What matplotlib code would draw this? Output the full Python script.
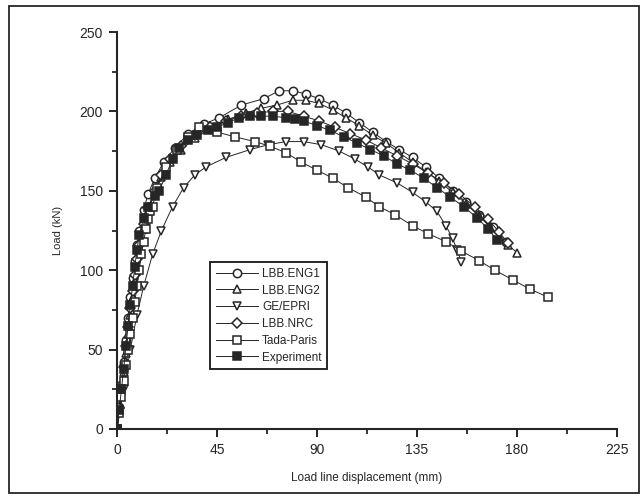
import numpy as np
import matplotlib
matplotlib.use("Agg")
import matplotlib.pyplot as plt
from matplotlib.patches import Rectangle
from matplotlib.ticker import MultipleLocator

plt.rcParams['font.family'] = ['Liberation Sans', 'DejaVu Sans']

INK = '#262626'

# load (kN) vs load line displacement (mm)
eng1_x = [0, 1, 2, 3, 4, 5, 6, 7, 8, 9, 10, 12, 14, 17, 21, 26, 32, 39, 46, 56, 66, 73,
          79, 85, 91, 97, 103, 109, 115, 121, 127, 133, 139, 145, 151, 157, 163, 169, 175]
eng1_y = [0, 14, 28, 42, 56, 70, 83, 95, 106, 116, 125, 138, 148, 158, 168, 177, 186, 192, 196, 204, 208, 213,
          213, 211, 208, 204, 199, 193, 187, 181, 176, 171, 165, 158, 150, 143, 135, 127, 118]

eng2_x = [0, 1, 2, 3, 4, 5, 6, 7, 8, 9, 10, 12, 14, 17, 20, 24, 29, 35, 42, 50, 58, 65, 72, 79,
          85, 91, 97, 103, 109, 115, 121, 127, 133, 139, 145, 151, 157, 163, 168, 172, 176, 180]
eng2_y = [0, 12, 24, 36, 48, 60, 72, 83, 93, 103, 112, 126, 137, 149, 159, 168, 176, 183, 189, 195, 199, 202, 204, 207,
          207, 205, 201, 196, 191, 185, 180, 174, 168, 162, 156, 149, 142, 134, 127, 121, 116, 111]

geepri_x = [0, 3, 6, 9, 12, 16, 20, 25, 30, 35, 40, 49, 60, 68, 76, 84, 92, 100, 107, 113,
            118, 126, 133, 139, 144, 148, 151, 153, 155]
geepri_y = [0, 25, 50, 72, 90, 110, 125, 140, 152, 160, 165, 171, 176, 179, 181, 181, 179, 175, 170, 165,
            160, 155, 149, 143, 137, 128, 120, 113, 105]

nrc_x = [0, 1, 2, 3, 4, 5, 6, 7, 8, 9, 10, 12, 14, 17, 20, 24, 29, 35, 42, 49, 56, 63, 70, 77,
         84, 91, 98, 105, 112, 119, 126, 133, 140, 147, 154, 161, 167, 172, 176]
nrc_y = [0, 13, 26, 39, 52, 64, 76, 87, 97, 107, 116, 129, 139, 150, 160, 170, 178, 185, 190, 194, 197, 199, 200, 200,
         197, 194, 190, 186, 182, 177, 172, 167, 161, 155, 148, 140, 132, 124, 117]

tada_x = [0, 1, 2, 3, 4, 5, 6, 7, 8, 9, 10, 11, 12, 13, 14, 15, 16, 18, 22, 27, 32, 37, 45, 53, 62, 69,
          76, 83, 90, 97, 104, 112, 118, 125, 133, 140, 148, 155, 163, 170, 178, 186, 194]
tada_y = [0, 10, 20, 30, 40, 50, 60, 70, 80, 90, 100, 110, 118, 126, 132, 137, 140, 152, 165, 176, 184, 190, 187, 184, 181, 178,
          174, 168, 163, 158, 152, 146, 140, 135, 128, 123, 118, 112, 106, 100, 94, 88, 83]

exp_x = [0, 1, 2, 3, 4, 5, 6, 7, 8, 9, 10, 12, 14, 17, 19, 22, 25, 28, 32, 36, 41, 45, 50, 55, 60, 65, 70,
         76, 80, 84, 90, 96, 102, 108, 114, 120, 126, 132, 138, 144, 150, 156, 162, 167, 171]
exp_y = [0, 12, 25, 38, 52, 65, 78, 90, 102, 113, 122, 133, 140, 147, 150, 160, 170, 177, 182, 185, 188, 190, 193, 196, 197, 197, 197,
         196, 195, 194, 191, 188, 184, 180, 176, 172, 167, 163, 158, 152, 146, 140, 133, 126, 119]

series = [
    ('LBB.ENG1', eng1_x, eng1_y, 'o', 'white'),
    ('LBB.ENG2', eng2_x, eng2_y, '^', 'white'),
    ('GE/EPRI', geepri_x, geepri_y, 'v', 'white'),
    ('LBB.NRC', nrc_x, nrc_y, 'D', 'white'),
    ('Tada-Paris', tada_x, tada_y, 's', 'white'),
    ('Experiment', exp_x, exp_y, 's', INK),
]

fig = plt.figure(figsize=(6.42, 4.97), dpi=100)
ax = fig.add_axes([117/642, 1-429/497, 500/642, 397/497])

for name, x, y, m, fc in series:
    ms = 5.0 if m == 'D' else 6.0
    ax.plot(x, y, color=INK, lw=0.7, marker=m, ms=ms, mfc=fc, mec=INK, mew=1.1, label=name)

ax.set_xlim(0, 225)
ax.set_ylim(0, 250)
ax.xaxis.set_major_locator(MultipleLocator(45))
ax.xaxis.set_minor_locator(MultipleLocator(22.5))
ax.yaxis.set_major_locator(MultipleLocator(50))
ax.yaxis.set_minor_locator(MultipleLocator(25))
for s in ['top', 'right']:
    ax.spines[s].set_visible(False)
for s in ['left', 'bottom']:
    ax.spines[s].set_linewidth(1.5)
    ax.spines[s].set_color(INK)
ax.tick_params(which='major', direction='out', length=6, width=1.4, colors=INK, labelsize=10, pad=4)
ax.tick_params(which='minor', direction='out', length=3.5, width=1.3, colors=INK)

ax.set_xlabel('Load line displacement (mm)', fontsize=8.5, color=INK, labelpad=11)
ax.set_ylabel('Load (kN)', fontsize=8, color=INK, labelpad=12)

leg = ax.legend(loc='upper left', bbox_to_anchor=((210-117)/500, (429-262)/397),
                borderaxespad=0, fontsize=8.5, handlelength=3.6, handletextpad=0.3,
                labelspacing=0.4, borderpad=0.5, fancybox=False, framealpha=1)
leg.get_frame().set_edgecolor(INK)
leg.get_frame().set_linewidth(1.4)
for t in leg.get_texts():
    t.set_color(INK)

# frame round the scanned figure
fig.patches.append(Rectangle((9/642, 4/497), 630/642, 487/497, transform=fig.transFigure,
                             fill=False, ec=INK, lw=1.3))

fig.savefig('out.png', dpi=100)
